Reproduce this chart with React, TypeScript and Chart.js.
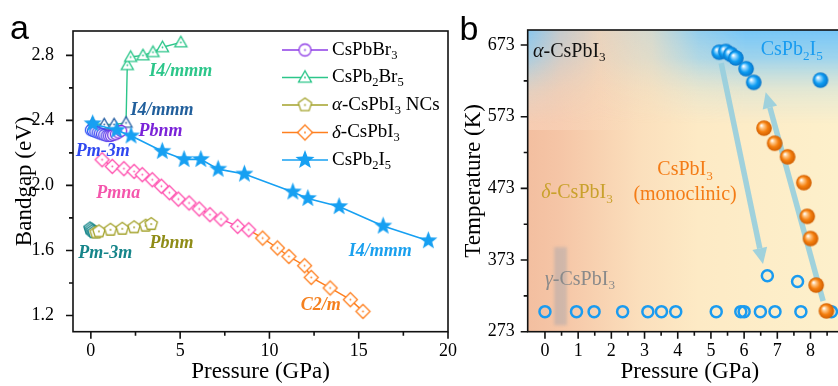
import React, { useEffect, useRef } from "react";
import { Chart, registerables } from "chart.js";

Chart.register(...registerables);

const SERIF = '"Liberation Serif", "Times New Roman", serif';
const SANS = '"Liberation Sans", Arial, sans-serif';

// ================= Panel a data (Pressure GPa, Bandgap eV) =================
const pbbr3P = [0.0, 0.12, 0.25, 0.38, 0.5, 0.62, 0.75, 0.88, 1.0, 1.12, 1.25, 1.4, 1.55, 1.7];
const pbbr3E = [2.34, 2.335, 2.33, 2.325, 2.32, 2.315, 2.31, 2.305, 2.305, 2.305, 2.31, 2.315, 2.325, 2.335];

const pb2br5P = [0.1, 0.75, 1.3, 1.97, 2.04, 2.23, 2.92, 3.48, 4.01, 5.04];
const pb2br5E = [2.38, 2.375, 2.375, 2.385, 2.74, 2.79, 2.8, 2.82, 2.85, 2.88];
const pb2br5LowCount = 4;

const ncP = [-0.05, 0.03, 0.1, 0.18, 0.3, 0.45, 1.1, 1.76, 2.42, 3.07, 3.38];
const ncE = [1.735, 1.728, 1.72, 1.712, 1.71, 1.717, 1.727, 1.733, 1.742, 1.752, 1.762];
const ncCubicCount = 4;

const deltaP = [0.63, 1.2, 1.85, 2.42, 2.88, 3.44, 3.95, 4.4, 4.9, 5.5, 6.07, 6.67, 7.29, 8.22, 8.84,
  9.62, 10.45, 11.09, 11.97, 12.34, 13.4, 14.53, 15.24];
const deltaE = [2.158, 2.117, 2.103, 2.086, 2.066, 2.035, 1.995, 1.955, 1.916, 1.892, 1.855, 1.82, 1.793, 1.748, 1.727,
  1.676, 1.615, 1.563, 1.506, 1.434, 1.369, 1.297, 1.225];
const deltaPinkCount = 15;

const pb2i5P = [0.1, 1.45, 2.25, 4.0, 5.22, 6.16, 7.13, 8.6, 11.31, 12.15, 13.9, 16.37, 18.9];
const pb2i5E = [2.38, 2.34, 2.305, 2.21, 2.16, 2.16, 2.1, 2.07, 1.96, 1.92, 1.87, 1.75, 1.66];

const xMajorA = [0, 5, 10, 15, 20];
const xMinorA = [2.5, 7.5, 12.5, 17.5];
const yMajorA = [1.2, 1.6, 2.0, 2.4, 2.8];
const yMinorA = [1.4, 1.8, 2.2, 2.6];

const legendLabelsA = [
  ["CsPbBr", "_3"],
  ["CsPb", "_2", "Br", "_5"],
  ["~\u03b1", "-CsPbI", "_3", " NCs"],
  ["~\u03b4", "-CsPbI", "_3"],
  ["CsPb", "_2", "I", "_5"],
];

const phaseTextA = ["I4/mmm", "I4/mmm", "Pbnm", "Pm-3m", "Pmna", "Pm-3m", "Pbnm", "C2/m", "I4/mmm"];
const phasePA = [5.03, 3.99, 3.9, 0.67, 1.54, 0.8, 4.52, 12.87, 16.21];
const phaseEA = [2.7, 2.46, 2.332, 2.21, 1.953, 1.58, 1.646, 1.26, 1.594];
const phaseColorA = ["#2cc68a", "#215f9c", "#7a22d8", "#2f48f0", "#f456ac", "#16858a", "#8f8c16", "#f5801e", "#1aa0ee"];

// ================= Panel b data (Pressure GPa, Temperature K) =================
const openP = [0, 0.95, 1.48, 2.34, 3.1, 3.51, 3.94, 5.16, 5.9, 6.0, 6.49, 6.93, 7.71, 8.63, 6.7, 7.61];
const openT = [301, 301, 301, 301, 301, 301, 301, 301, 301, 301, 301, 301, 301, 301, 351, 343];

const orangeP = [6.6, 6.92, 7.31, 7.8, 7.9, 8.0, 8.17, 8.48];
const orangeT = [557, 536, 517, 481, 434, 403, 338, 302];

const blueP = [5.25, 5.45, 5.6, 5.75, 6.06, 6.29, 8.3];
const blueT = [663, 664, 660, 655, 640, 621, 624];

const xMajorB = [0, 1, 2, 3, 4, 5, 6, 7, 8, 9];
const xMinorB = [0.5, 1.5, 2.5, 3.5, 4.5, 5.5, 6.5, 7.5, 8.5];
const yMajorB = [273, 373, 473, 573, 673];
const yMinorB = [323, 423, 523, 623];

const labelPartsB = [
  ["~\u03b1", "-CsPbI", "_3"],
  ["CsPb", "_2", "I", "_5"],
  ["~\u03b4", "-CsPbI", "_3"],
  ["CsPbI", "_3"],
  ["(monoclinic)"],
  ["~\u03b3", "-CsPbI", "_3"],
];
const labelPB = [-0.36, 6.5, -0.11, 4.22, 4.22, 0.0];
const labelTB = [663.5, 666, 466.4, 498.5, 463.6, 346];
const labelColorB = ["#111111", "#1a9cf0", "#c9a12c", "#f47c16", "#f47c16", "#8a8a8a"];
const labelAlignB = ["left", "left", "left", "center", "center", "left"];

// arrows: [fromP, fromT, toP, toT]
const arrowsB = [
  [5.31, 647.8, 6.57, 367.4],
  [8.38, 315.8, 6.65, 607.3],
];
const gammaBand = [0.28, 0.66, 282, 391];

// ================= helpers =================
function drawRich(ctx: any, parts: string[], x: number, y: number, size: number, color: string, align: string, prefix = "") {
  const subSize = size * 0.66;
  const fontOf = (p: string) => {
    if (p.startsWith("_")) return `${prefix}${subSize}px ${SERIF}`;
    if (p.startsWith("~")) return `italic ${size}px ${SERIF}`;
    return `${prefix}${size}px ${SERIF}`;
  };
  const txt = (p: string) => (p.startsWith("_") || p.startsWith("~") ? p.slice(1) : p);
  ctx.save();
  ctx.fillStyle = color;
  ctx.textBaseline = "middle";
  ctx.textAlign = "left";
  let total = 0;
  const widths = parts.map((p) => {
    ctx.font = fontOf(p);
    const w = ctx.measureText(txt(p)).width;
    total += w;
    return w;
  });
  let cx = align === "center" ? x - total / 2 : x;
  parts.forEach((p, i) => {
    ctx.font = fontOf(p);
    ctx.fillText(txt(p), cx, p.startsWith("_") ? y + size * 0.3 : y);
    cx += widths[i];
  });
  ctx.restore();
}

function shapePath(ctx: any, shape: string, r: number) {
  ctx.beginPath();
  if (shape === "circle") {
    ctx.arc(0, 0, r, 0, Math.PI * 2);
    return;
  }
  const pts: number[][] = [];
  if (shape === "triangle") {
    for (let k = 0; k < 3; k++) {
      const a = -Math.PI / 2 + (k * 2 * Math.PI) / 3;
      pts.push([r * Math.cos(a), r * Math.sin(a) + r * 0.12]);
    }
  } else if (shape === "pentagon") {
    for (let k = 0; k < 5; k++) {
      const a = -Math.PI / 2 + (k * 2 * Math.PI) / 5;
      pts.push([r * Math.cos(a), r * Math.sin(a)]);
    }
  } else if (shape === "diamond") {
    pts.push([0, -r], [r, 0], [0, r], [-r, 0]);
  } else if (shape === "star") {
    for (let k = 0; k < 10; k++) {
      const a = -Math.PI / 2 + (k * Math.PI) / 5;
      const rr = k % 2 ? r * 0.42 : r;
      pts.push([rr * Math.cos(a), rr * Math.sin(a)]);
    }
  }
  pts.forEach(([x, y], i) => (i ? ctx.lineTo(x, y) : ctx.moveTo(x, y)));
  ctx.closePath();
}

function makeMarker(shape: string, color: string, r: number, fill: string | null, dot: boolean, lw = 1.3) {
  const dim = Math.ceil(2 * r + 2 * lw + 4);
  const c = document.createElement("canvas");
  c.width = dim;
  c.height = dim;
  const ctx = c.getContext("2d") as any;
  ctx.translate(dim / 2, dim / 2);
  shapePath(ctx, shape, r);
  if (fill) {
    ctx.fillStyle = fill;
    ctx.fill();
  }
  if (lw > 0) {
    ctx.lineWidth = lw;
    ctx.strokeStyle = color;
    ctx.stroke();
  }
  if (dot) {
    ctx.beginPath();
    ctx.arc(0, 0, 0.9, 0, Math.PI * 2);
    ctx.fillStyle = color;
    ctx.fill();
  }
  return c;
}

function makeBall(light: string, base: string, dark: string, r: number) {
  const dim = Math.ceil(2 * r + 4);
  const c = document.createElement("canvas");
  c.width = dim;
  c.height = dim;
  const ctx = c.getContext("2d") as any;
  ctx.translate(dim / 2, dim / 2);
  const g = ctx.createRadialGradient(-r * 0.35, -r * 0.35, r * 0.05, 0, 0, r);
  g.addColorStop(0, "#ffffff");
  g.addColorStop(0.22, light);
  g.addColorStop(0.6, base);
  g.addColorStop(1, dark);
  ctx.beginPath();
  ctx.arc(0, 0, r, 0, Math.PI * 2);
  ctx.fillStyle = g;
  ctx.fill();
  return c;
}

function hexLerp(a: string, b: string, t: number) {
  const pa = [1, 3, 5].map((i) => parseInt(a.slice(i, i + 2), 16));
  const pb = [1, 3, 5].map((i) => parseInt(b.slice(i, i + 2), 16));
  const m = pa.map((v, i) => Math.round(v + (pb[i] - v) * t));
  return `rgb(${m[0]},${m[1]},${m[2]})`;
}

function drawFrameTicks(chart: any, xMaj: number[], xMin: number[], yMaj: number[], yMin: number[]) {
  const { ctx, chartArea: ca, scales } = chart;
  const xs = scales.x;
  const ys = scales.y;
  ctx.save();
  ctx.strokeStyle = "#111";
  ctx.lineWidth = 1.6;
  ctx.strokeRect(ca.left, ca.top, ca.right - ca.left, ca.bottom - ca.top);
  ctx.beginPath();
  xMaj.forEach((v) => { const p = xs.getPixelForValue(v); ctx.moveTo(p, ca.bottom); ctx.lineTo(p, ca.bottom + 7); });
  xMin.forEach((v) => { const p = xs.getPixelForValue(v); ctx.moveTo(p, ca.bottom); ctx.lineTo(p, ca.bottom + 4); });
  yMaj.forEach((v) => { const p = ys.getPixelForValue(v); ctx.moveTo(ca.left, p); ctx.lineTo(ca.left - 7, p); });
  yMin.forEach((v) => { const p = ys.getPixelForValue(v); ctx.moveTo(ca.left, p); ctx.lineTo(ca.left - 4, p); });
  ctx.stroke();
  ctx.restore();
}

function axisCommon(min: number, max: number, majors: number[], fmt: (v: number) => string, size: number, pad: number, title: string, titlePad: any, isX: boolean) {
  return {
    type: "linear",
    min,
    max,
    afterBuildTicks: (s: any) => { s.ticks = majors.map((v) => ({ value: v })); },
    afterFit: (s: any) => { if (isX) s.height = size; else s.width = size; },
    grid: { display: true, drawOnChartArea: false, drawTicks: false, color: "rgba(0,0,0,0)" },
    border: { display: false },
    ticks: { padding: pad, color: "#000", font: { family: SERIF, size: 18 }, callback: (v: any) => fmt(Number(v)), maxRotation: 0, autoSkip: false },
    title: { display: true, text: title, color: "#000", font: { family: SERIF, size: 23 }, padding: titlePad },
  };
}

// ================= Panel a =================
const PURPLE = "#8e3ce6";
const GREEN = "#2cc68a";
const OLIVE = "#a3a22a";
const TEAL = "#17868a";
const ORANGE = "#ff7f1e";
const PINK = "#ff4fae";
const STARBLUE = "#17a0f2";

function buildConfigA() {
  const n1 = pbbr3P.length;
  const pbbr3Colors = pbbr3P.map((_, i) => hexLerp("#2d4ff5", "#8a22dc", Math.pow(i / (n1 - 1), 1.6)));
  const pbbr3Imgs = pbbr3Colors.map((c) => makeMarker("circle", c, 5.5, "#ffffff", true));
  const br5Imgs = pb2br5P.map((_, i) => makeMarker("triangle", i < pb2br5LowCount ? "#2b62a4" : GREEN, 7, "#ffffff", true));
  const ncImgs = ncP.map((_, i) => makeMarker("pentagon", i < ncCubicCount ? TEAL : OLIVE, 6.5, "#ffffff", true));
  const deltaImgs = deltaP.map((_, i) => makeMarker("diamond", i < deltaPinkCount ? PINK : ORANGE, 7, "#ffffff", true));
  const starImg = makeMarker("star", STARBLUE, 9.5, STARBLUE, false, 0);

  const legendImgs = [
    makeMarker("circle", PURPLE, 6, "#ffffff", true),
    makeMarker("triangle", GREEN, 7.5, "#ffffff", true),
    makeMarker("pentagon", OLIVE, 7, "#ffffff", true),
    makeMarker("diamond", ORANGE, 7.5, "#ffffff", true),
    makeMarker("star", STARBLUE, 10, STARBLUE, false, 0),
  ];
  const legendColors = [PURPLE, GREEN, OLIVE, ORANGE, STARBLUE];

  const pts = (xs: number[], ys: number[]) => xs.map((x, i) => ({ x, y: ys[i] }));

  const plugin = {
    id: "panelA",
    afterDatasetsDraw(chart: any) {
      const { ctx, scales } = chart;
      phaseTextA.forEach((t, i) => {
        drawRich(ctx, [t], scales.x.getPixelForValue(phasePA[i]), scales.y.getPixelForValue(phaseEA[i]), 18, phaseColorA[i], "center", "italic bold ");
      });
    },
    afterDraw(chart: any) {
      const { ctx } = chart;
      drawFrameTicks(chart, xMajorA, xMinorA, yMajorA, yMinorA);
      // legend
      const lx0 = 282, lx1 = 328, mx = 305, tx = 332;
      legendLabelsA.forEach((parts, i) => {
        const y = 50 + i * 27.5;
        ctx.save();
        ctx.strokeStyle = legendColors[i];
        ctx.lineWidth = 1.6;
        ctx.beginPath();
        ctx.moveTo(lx0, y);
        ctx.lineTo(lx1, y);
        ctx.stroke();
        const img = legendImgs[i];
        ctx.drawImage(img, mx - img.width / 2, y - img.height / 2);
        ctx.restore();
        drawRich(ctx, parts, tx, y, 19, "#000", "left");
      });
      ctx.save();
      ctx.fillStyle = "#000";
      ctx.font = `34px ${SANS}`;
      ctx.textBaseline = "alphabetic";
      ctx.fillText("a", 10, 38.5);
      ctx.restore();
    },
  };

  return {
    type: "scatter",
    data: {
      datasets: [
        {
          label: "CsPb2I5", data: pts(pb2i5P, pb2i5E), showLine: true, borderColor: STARBLUE, borderWidth: 1.6,
          pointStyle: starImg, pointRadius: 6,
        },
        {
          label: "CsPbBr3", data: pts(pbbr3P, pbbr3E), showLine: true, borderColor: PURPLE, borderWidth: 1.4,
          pointStyle: (c: any) => pbbr3Imgs[c.dataIndex] || pbbr3Imgs[0], pointRadius: 5,
        },
        {
          label: "CsPb2Br5", data: pts(pb2br5P, pb2br5E), showLine: true, borderColor: GREEN, borderWidth: 1.4,
          pointStyle: (c: any) => br5Imgs[c.dataIndex] || br5Imgs[0], pointRadius: 5,
        },
        {
          label: "NCs", data: pts(ncP, ncE), showLine: true, borderColor: OLIVE, borderWidth: 1.4,
          segment: { borderColor: (c: any) => (c.p1DataIndex < ncCubicCount ? TEAL : OLIVE) },
          pointStyle: (c: any) => ncImgs[c.dataIndex] || ncImgs[0], pointRadius: 5,
        },
        {
          label: "delta", data: pts(deltaP, deltaE), showLine: true, borderColor: ORANGE, borderWidth: 1.4,
          segment: { borderColor: (c: any) => (c.p1DataIndex < deltaPinkCount ? PINK : ORANGE) },
          pointStyle: (c: any) => deltaImgs[c.dataIndex] || deltaImgs[0], pointRadius: 5,
        },
      ],
    },
    options: {
      responsive: false,
      animation: false,
      events: [],
      layout: { padding: { left: 0, top: 31, right: 22, bottom: 0 } },
      plugins: { legend: { display: false }, tooltip: { enabled: false } },
      scales: {
        x: axisCommon(-1, 20, xMajorA, (v) => String(v), 54.3, 9, "Pressure (GPa)", { top: 0, bottom: 0 }, true),
        y: axisCommon(1.1, 2.95, yMajorA, (v) => v.toFixed(1), 73, 19, "Bandgap (eV)", { top: 11, bottom: 0 }, false),
      },
    },
    plugins: [plugin],
  };
}

// ================= Panel b =================
const OPEN_BLUE = "#1a9bf0";

function buildConfigB() {
  const blueBall = makeBall("#9ad8ff", "#0c9cf2", "#0874c8", 7.8);
  const orangeBall = makeBall("#ffc98a", "#f57f0e", "#cf5d00", 7.8);
  const pts = (xs: number[], ys: number[]) => xs.map((x, i) => ({ x, y: ys[i] }));

  const plugin = {
    id: "panelB",
    beforeDatasetsDraw(chart: any) {
      const { ctx, chartArea: ca, scales } = chart;
      const xs = scales.x, ys = scales.y;
      const w = ca.right - ca.left, h = ca.bottom - ca.top;
      const visW = 838 - 450 - ca.left; // visible width in canvas
      ctx.save();
      ctx.beginPath();
      ctx.rect(ca.left, ca.top, w, h);
      ctx.clip();
      // base horizontal gradient
      const g = ctx.createLinearGradient(ca.left, 0, ca.left + visW, 0);
      g.addColorStop(0, "#f3bfa0");
      g.addColorStop(0.1, "#f5c5a6");
      g.addColorStop(0.23, "#f8d2b1");
      g.addColorStop(0.36, "#fbdfbc");
      g.addColorStop(0.55, "#fdeac5");
      g.addColorStop(1, "#fdf0cb");
      ctx.fillStyle = g;
      ctx.fillRect(ca.left, ca.top, w, h);
      // lighter upper-left band
      const lg = ctx.createLinearGradient(ca.left, 0, ca.left + 120, 0);
      lg.addColorStop(0, "rgba(255,238,225,0.28)");
      lg.addColorStop(1, "rgba(255,238,225,0)");
      ctx.fillStyle = lg;
      ctx.fillRect(ca.left, ca.top, 120, 100);
      // top blue haze
      const off = document.createElement("canvas");
      off.width = Math.ceil(w);
      off.height = Math.ceil(h);
      const o = off.getContext("2d") as any;
      const vg = o.createLinearGradient(0, 0, 0, 95);
      vg.addColorStop(0, "rgba(118,198,248,1)");
      vg.addColorStop(0.3, "rgba(135,205,245,0.8)");
      vg.addColorStop(0.65, "rgba(175,218,232,0.3)");
      vg.addColorStop(1, "rgba(200,225,230,0)");
      o.fillStyle = vg;
      o.fillRect(0, 0, off.width, 95);
      o.globalCompositeOperation = "destination-in";
      const hg = o.createLinearGradient(0, 0, visW, 0);
      hg.addColorStop(0, "rgba(0,0,0,0.85)");
      hg.addColorStop(0.1, "rgba(0,0,0,0.4)");
      hg.addColorStop(0.23, "rgba(0,0,0,0.12)");
      hg.addColorStop(0.4, "rgba(0,0,0,0.3)");
      hg.addColorStop(0.55, "rgba(0,0,0,0.8)");
      hg.addColorStop(0.7, "rgba(0,0,0,1)");
      hg.addColorStop(1, "rgba(0,0,0,1)");
      o.fillStyle = hg;
      o.fillRect(0, 0, off.width, off.height);
      ctx.drawImage(off, ca.left, ca.top);
      // gamma band
      ctx.save();
      ctx.filter = "blur(1.5px)";
      ctx.fillStyle = "rgba(165,165,172,0.45)";
      const gx0 = xs.getPixelForValue(gammaBand[0]);
      const gx1 = xs.getPixelForValue(gammaBand[1]);
      const gy0 = ys.getPixelForValue(gammaBand[3]);
      const gy1 = ys.getPixelForValue(gammaBand[2]);
      ctx.fillRect(gx0, gy0, gx1 - gx0, gy1 - gy0);
      ctx.restore();
      // labels
      labelPartsB.forEach((parts, i) => {
        drawRich(ctx, parts, xs.getPixelForValue(labelPB[i]), ys.getPixelForValue(labelTB[i]), 20, labelColorB[i], labelAlignB[i]);
      });
      // arrows
      arrowsB.forEach(([p0, t0, p1, t1]) => {
        const x0 = xs.getPixelForValue(p0), y0 = ys.getPixelForValue(t0);
        const x1 = xs.getPixelForValue(p1), y1 = ys.getPixelForValue(t1);
        const ang = Math.atan2(y1 - y0, x1 - x0);
        const headL = 16, headW = 7.5;
        const bx = x1 - headL * Math.cos(ang), by = y1 - headL * Math.sin(ang);
        ctx.strokeStyle = "rgba(150,206,222,0.9)";
        ctx.fillStyle = "rgba(150,206,222,0.9)";
        ctx.lineWidth = 5.5;
        ctx.lineCap = "butt";
        ctx.beginPath();
        ctx.moveTo(x0, y0);
        ctx.lineTo(bx, by);
        ctx.stroke();
        ctx.beginPath();
        ctx.moveTo(x1, y1);
        ctx.lineTo(bx + headW * Math.sin(ang), by - headW * Math.cos(ang));
        ctx.lineTo(bx - headW * Math.sin(ang), by + headW * Math.cos(ang));
        ctx.closePath();
        ctx.fill();
      });
      ctx.restore();
    },
    afterDraw(chart: any) {
      const { ctx } = chart;
      drawFrameTicks(chart, xMajorB, xMinorB, yMajorB, yMinorB);
      ctx.save();
      ctx.fillStyle = "#000";
      ctx.font = `34px ${SANS}`;
      ctx.textBaseline = "alphabetic";
      ctx.fillText("b", 9.5, 39.5);
      ctx.restore();
    },
  };

  return {
    type: "scatter",
    data: {
      datasets: [
        { label: "orange", data: pts(orangeP, orangeT), pointStyle: orangeBall, pointRadius: 7 },
        { label: "blue", data: pts(blueP, blueT), pointStyle: blueBall, pointRadius: 7 },
        {
          label: "open", data: pts(openP, openT), pointStyle: "circle", pointRadius: 5.5,
          pointBorderWidth: 2.5, pointBorderColor: OPEN_BLUE, pointBackgroundColor: "rgba(0,0,0,0)",
        },
      ],
    },
    options: {
      responsive: false,
      animation: false,
      events: [],
      layout: { padding: { left: 0, top: 30, right: 0, bottom: 0 } },
      plugins: { legend: { display: false }, tooltip: { enabled: false } },
      scales: {
        x: axisCommon(-0.52, 9.25, xMajorB, (v) => String(v), 54.3, 9, "Pressure (GPa)", { top: 0, bottom: 0 }, true),
        y: axisCommon(273, 694, yMajorB, (v) => String(v), 77.7, 13, "Temperature (K)", { top: 10, bottom: 0 }, false),
      },
    },
    plugins: [plugin],
  };
}

export default function App() {
  const refA = useRef<HTMLCanvasElement | null>(null);
  const refB = useRef<HTMLCanvasElement | null>(null);
  useEffect(() => {
    const a = new Chart(refA.current as any, buildConfigA() as any);
    const b = new Chart(refB.current as any, buildConfigB() as any);
    return () => {
      a.destroy();
      b.destroy();
    };
  }, []);
  return (
    <div style={{ position: "fixed", left: 0, top: 0, width: 838, height: 386, overflow: "hidden", background: "#fff" }}>
      <canvas ref={refA} width={470} height={386} style={{ position: "absolute", left: 0, top: 0, width: 470, height: 386 }} />
      <canvas ref={refB} width={410} height={386} style={{ position: "absolute", left: 450, top: 0, width: 410, height: 386 }} />
    </div>
  );
}
